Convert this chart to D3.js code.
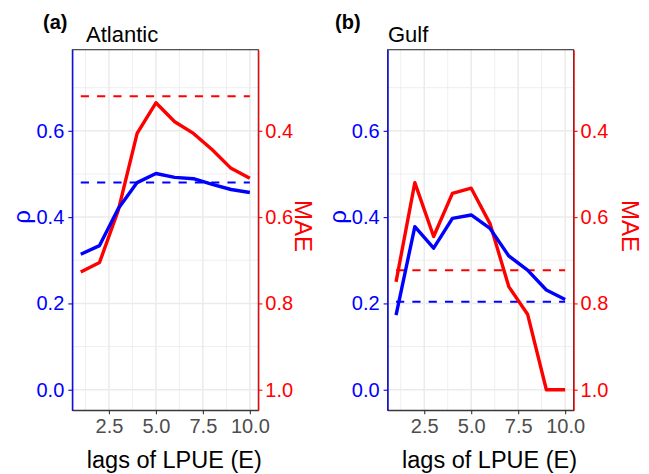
<!DOCTYPE html>
<html>
<head>
<meta charset="utf-8">
<script src="https://cdn.jsdelivr.net/npm/d3@7"></script>
<style>
  html, body { margin: 0; padding: 0; background: #ffffff; }
  svg { display: block; font-family: "Liberation Sans", Arial, Helvetica, sans-serif; }
</style>
</head>
<body>
<svg id="chart" width="649" height="474"></svg>
<script>
// ---- data ----
const lags = [1, 2, 3, 4, 5, 6, 7, 8, 9, 10];
const xTicks = [2.5, 5.0, 7.5, 10.0];
const rhoTicks = [0.0, 0.2, 0.4, 0.6];
const maeTicks = [0.4, 0.6, 0.8, 1.0];

const atlanticRho = [0.314, 0.334, 0.420, 0.480, 0.501, 0.492, 0.489, 0.476, 0.464, 0.457];
const atlanticMAE = [0.727, 0.705, 0.584, 0.406, 0.335, 0.379, 0.406, 0.444, 0.487, 0.510];
const atlanticRhoRef = 0.480;
const atlanticMAERef = 0.320;

const gulfRho = [0.173, 0.378, 0.328, 0.397, 0.405, 0.374, 0.310, 0.277, 0.231, 0.209];
const gulfMAE = [0.750, 0.520, 0.645, 0.545, 0.533, 0.615, 0.761, 0.825, 1.000, 1.000];
const gulfRhoRef = 0.204;
const gulfMAERef = 0.723;

const panelLabels = ["(a)", "(b)"];
const panelTitles = ["Atlantic", "Gulf"];
const xTitle = "lags of LPUE (E)";
const rhoTitle = "\u03C1";
const maeTitle = "MAE";

// ---- layout ----
const svg = d3.select("#chart");
const BLUE = "#0000FF", RED = "#FF0000", GRID = "#EBEBEB";
const plotTop = 49.7, plotBottom = 410.3, pw = 186;
const panelLeft = [72.3, 387.6];

const panels = [
  { rho: atlanticRho, mae: atlanticMAE, rhoRef: atlanticRhoRef, maeRef: atlanticMAERef, maeX: 295, labelX: 43, titleX: 86 },
  { rho: gulfRho, mae: gulfMAE, rhoRef: gulfRhoRef, maeRef: gulfMAERef, maeX: 622, labelX: 335, titleX: 388 }
];

panels.forEach((p, i) => {
  const x0 = panelLeft[i], x1 = x0 + pw;
  const x = d3.scaleLinear().domain([0.55, 10.45]).range([x0, x1]);
  const yRho = d3.scaleLinear().domain([-0.0477, 0.788]).range([plotBottom, plotTop]);
  const yMae = d3.scaleLinear().domain([1.0477, 0.212]).range([plotBottom, plotTop]);

  const g = svg.append("g");

  g.append("rect").attr("x", x0).attr("y", plotTop).attr("width", pw).attr("height", plotBottom - plotTop).attr("fill", "#fff");

  // minor grid
  const xMinor = [1.25, 3.75, 6.25, 8.75];
  const yMinor = [0.1, 0.3, 0.5, 0.7];
  g.selectAll(".vmin").data(xMinor).join("line")
    .attr("x1", d => x(d)).attr("x2", d => x(d)).attr("y1", plotTop).attr("y2", plotBottom)
    .attr("stroke", GRID).attr("stroke-width", 0.8);
  g.selectAll(".hmin").data(yMinor).join("line")
    .attr("x1", x0).attr("x2", x1).attr("y1", d => yRho(d)).attr("y2", d => yRho(d))
    .attr("stroke", GRID).attr("stroke-width", 0.8);
  // major grid
  g.selectAll(".vmaj").data(xTicks).join("line")
    .attr("x1", d => x(d)).attr("x2", d => x(d)).attr("y1", plotTop).attr("y2", plotBottom)
    .attr("stroke", GRID).attr("stroke-width", 1.5);
  g.selectAll(".hmaj").data(rhoTicks).join("line")
    .attr("x1", x0).attr("x2", x1).attr("y1", d => yRho(d)).attr("y2", d => yRho(d))
    .attr("stroke", GRID).attr("stroke-width", 1.5);

  // reference dashed lines
  g.append("line")
    .attr("x1", x(lags[0])).attr("x2", x(lags[lags.length - 1]))
    .attr("y1", yMae(p.maeRef)).attr("y2", yMae(p.maeRef))
    .attr("stroke", RED).attr("stroke-width", 2).attr("stroke-dasharray", "8.2,8.1");
  g.append("line")
    .attr("x1", x(lags[0])).attr("x2", x(lags[lags.length - 1]))
    .attr("y1", yRho(p.rhoRef)).attr("y2", yRho(p.rhoRef))
    .attr("stroke", BLUE).attr("stroke-width", 2).attr("stroke-dasharray", "8.2,8.1");

  // series lines
  const lineRho = d3.line().x((d, k) => x(lags[k])).y(d => yRho(d));
  const lineMae = d3.line().x((d, k) => x(lags[k])).y(d => yMae(d));
  g.append("path").attr("d", lineMae(p.mae)).attr("fill", "none")
    .attr("stroke", RED).attr("stroke-width", 3.4).attr("stroke-linejoin", "round");
  g.append("path").attr("d", lineRho(p.rho)).attr("fill", "none")
    .attr("stroke", BLUE).attr("stroke-width", 3.4).attr("stroke-linejoin", "round");

  // panel border
  g.append("rect").attr("x", x0).attr("y", plotTop).attr("width", pw).attr("height", plotBottom - plotTop)
    .attr("fill", "none").attr("stroke", "#333333").attr("stroke-width", 1.1);

  // x axis
  const xa = g.append("g").attr("transform", `translate(0,${plotBottom})`)
    .call(d3.axisBottom(x).tickValues(xTicks).tickFormat(d3.format(".1f")).tickSize(4).tickSizeOuter(0).tickPadding(5));
  xa.select(".domain").attr("stroke", "#333333").attr("stroke-width", 1.1);
  xa.selectAll(".tick line").attr("stroke", "#333333").attr("stroke-width", 1.1);
  xa.selectAll(".tick text").attr("fill", "#4D4D4D").attr("font-size", 20).attr("font-family", null);

  // left axis (rho)
  const ya = g.append("g").attr("transform", `translate(${x0},0)`)
    .call(d3.axisLeft(yRho).tickValues(rhoTicks).tickFormat(d3.format(".1f")).tickSize(4).tickSizeOuter(0).tickPadding(4));
  ya.select(".domain").attr("stroke", BLUE).attr("stroke-width", 1.2);
  ya.selectAll(".tick line").attr("stroke", BLUE).attr("stroke-width", 1.1);
  ya.selectAll(".tick text").attr("fill", BLUE).attr("font-size", 20).attr("font-family", null);

  // right axis (MAE)
  const yb = g.append("g").attr("transform", `translate(${x1},0)`)
    .call(d3.axisRight(yMae).tickValues(maeTicks).tickFormat(d3.format(".1f")).tickSize(4).tickSizeOuter(0).tickPadding(3));
  yb.select(".domain").attr("stroke", RED).attr("stroke-width", 1.2);
  yb.selectAll(".tick line").attr("stroke", RED).attr("stroke-width", 1.1);
  yb.selectAll(".tick text").attr("fill", RED).attr("font-size", 20).attr("font-family", null);

  // titles
  svg.append("text").attr("x", p.labelX).attr("y", 29).attr("font-size", 20).attr("font-weight", "bold")
    .attr("fill", "#000").text(panelLabels[i]);
  svg.append("text").attr("x", p.titleX).attr("y", 41.5).attr("font-size", 22)
    .attr("fill", "#000").text(panelTitles[i]);
  svg.append("text").attr("x", (x0 + x1) / 2 + 9).attr("y", 468).attr("font-size", 23.5)
    .attr("text-anchor", "middle").attr("fill", "#000").text(xTitle);
  svg.append("text").attr("transform", `translate(${x0 - 42},217) rotate(-90)`)
    .attr("font-size", 24).attr("text-anchor", "middle").attr("fill", BLUE).text(rhoTitle);
  svg.append("text").attr("transform", `translate(${p.maeX},226) rotate(90)`)
    .attr("font-size", 24).attr("text-anchor", "middle").attr("fill", RED).text(maeTitle);
});
</script>
</body>
</html>
